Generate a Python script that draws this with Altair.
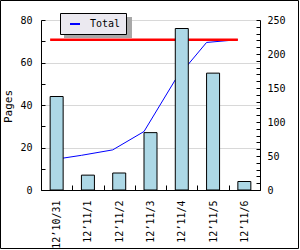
import altair as alt
import pandas as pd

# ---- data ----
dates = ["12’10/31", "12’11/1", "12’11/2", "12’11/3", "12’11/4", "12’11/5", "12’11/6"]
pages = [44, 7, 8, 27, 76, 55, 4]
total = [44, 51, 59, 86, 162, 217, 221]
max_total = [221, 221, 221, 221, 221, 221, 221]
series_names = ["Total"] * 7

df = pd.DataFrame({"date": dates, "pages": pages, "total": total,
                   "max_total": max_total, "series": series_names})

FONT = "DejaVu Sans Mono"
W, H = 219, 170
BAR_W = 13
BAND_POS = ((W / 7) - BAR_W) / 2 / (W / 7)

xscale = alt.Scale(domain=dates, paddingInner=0, paddingOuter=0)
x_axis = alt.Axis(title=None, labelAngle=270, labelFont=FONT, labelFontSize=10,
                  labelColor="black", tickBand="extent", tickSize=alt.ExprRef(expr="-5"),
                  tickColor="black", domainColor="black", labelPadding=15, grid=False)

left_axis = alt.Axis(orient="left", title="Pages", values=list(range(0, 81, 10)),
                     labelExpr="datum.value % 20 == 0 ? datum.label : ''",
                     tickSize=alt.ExprRef(expr="-4"), labelPadding=13,
                     grid=True, gridColor="#d8d8d8",
                     gridOpacity={"condition": {"test": "datum.value % 20 == 0 && datum.value > 0", "value": 1}, "value": 0},
                     domainColor="black", tickColor="black", labelColor="black",
                     labelFont=FONT, labelFontSize=10, titleFont=FONT, titleFontSize=11,
                     titleFontWeight="normal", titleColor="black",
                     titleX=-28, titleY=86, titleAngle=270, titleBaseline="bottom", titleAlign="center")

right_axis = alt.Axis(orient="right", title=None, values=list(range(0, 251, 10)),
                      labelExpr="datum.value % 50 == 0 ? datum.label : ''",
                      tickSize=alt.ExprRef(expr="-4"), labelPadding=11, grid=False,
                      domainColor="black", tickColor="black", labelColor="black",
                      labelFont=FONT, labelFontSize=10)

yleft = alt.Scale(domain=[0, 80], nice=False)
yright = alt.Scale(domain=[0, 250], nice=False)

base = alt.Chart(df)

total_line = base.mark_line(strokeWidth=1).encode(
    x=alt.X("date:N", sort=dates, scale=xscale, axis=x_axis, bandPosition=BAND_POS),
    y=alt.Y("total:Q", scale=yright, axis=right_axis),
    color=alt.Color("series:N", scale=alt.Scale(range=["#0000ff"]),
                    legend=alt.Legend(title=None, orient="none", legendX=19, legendY=-7,
                                      fillColor="#ebe9f0", strokeColor="black", padding=5,
                                      symbolType="stroke", symbolStrokeWidth=2, symbolSize=100,
                                      symbolOffset=4, labelOffset=9, labelFont=FONT,
                                      labelFontSize=10, labelColor="black",
                                      labelExpr="datum.label + '\u00a0'")),
)

max_line = base.mark_line(color="#ff0000", strokeWidth=2.4).encode(
    x=alt.X("date:N", sort=dates, scale=xscale, axis=x_axis, bandPosition=BAND_POS),
    y=alt.Y("max_total:Q", scale=yright, axis=right_axis),
)

bars = base.mark_bar(width=BAR_W, fill="#add8e6", stroke="black", strokeWidth=1).encode(
    x=alt.X("date:N", sort=dates, scale=xscale, axis=x_axis),
    y=alt.Y("pages:Q", scale=yleft, axis=left_axis),
)

one = alt.Chart(pd.DataFrame({"a": [0]}))
frame = one.mark_rect(fillOpacity=0, stroke="black", strokeWidth=1).encode(
    x=alt.value(-40.5), x2=alt.value(257.5), y=alt.value(-19.5), y2=alt.value(228.5))
shadow = one.mark_rect(fill="#a8a8a8").encode(
    x=alt.value(23), x2=alt.value(91), y=alt.value(-3), y2=alt.value(18))

right_layer = alt.layer(total_line, max_line)

chart = alt.layer(frame, shadow, right_layer, bars).resolve_scale(
    y="independent", color="independent"
).properties(
    width=W, height=H, autosize="none",
    padding={"left": 41, "top": 20, "right": 40, "bottom": 60},
    background="white",
).configure_view(stroke=None)

chart.save("out.html", embed_options={"renderer": "svg", "actions": False})
